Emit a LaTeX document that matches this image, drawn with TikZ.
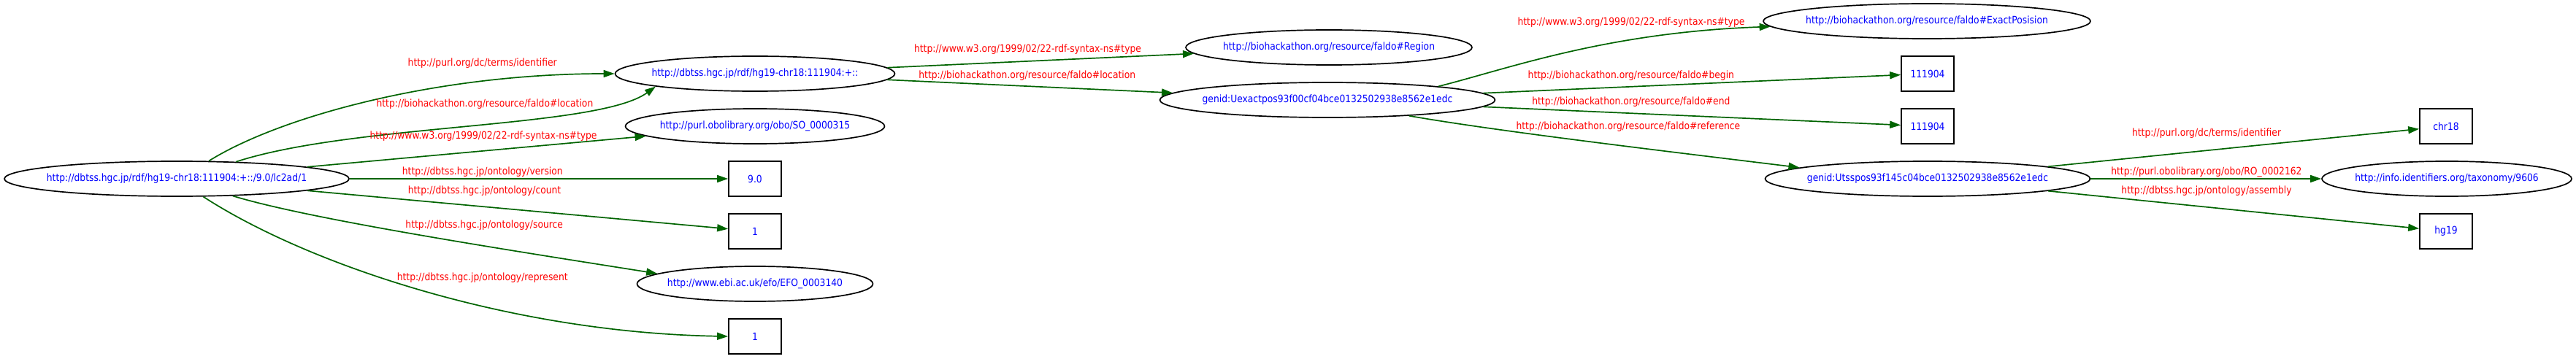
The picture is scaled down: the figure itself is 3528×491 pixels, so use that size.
\documentclass[tikz,border=0pt]{standalone}
\usepackage{fontspec}
\setmainfont{DejaVu Sans}[FakeStretch=0.88]
\usepackage{tikz}
\usetikzlibrary{positioning,arrows.meta,shapes.geometric}
\definecolor{edgegreen}{HTML}{006400}
\definecolor{propred}{HTML}{FF0000}
\definecolor{nodeblue}{HTML}{0000FF}
\newcommand{\iri}[1]{\makebox[0pt]{#1}}
\tikzset{->,>={Triangle[length=15pt,width=10pt]},
every edge/.style={draw=edgegreen,line width=1.7pt},
ur/.style={ellipse,draw,line width=1.7pt,inner sep=0pt,minimum height=48pt,text=nodeblue,font=\fontsize{14}{16}\selectfont},
lt/.style={rectangle,draw,line width=1.7pt,inner sep=0pt,minimum width=72pt,minimum height=48pt,text=nodeblue,font=\fontsize{14}{16}\selectfont},
pr/.style={inner sep=0pt,text=propred,font=\fontsize{14}{16}\selectfont},
}

\begin{document}
\begin{tikzpicture}[x=1pt,y=1pt]
\useasboundingbox (0,0) rectangle (3528,491);
\node[ur,minimum width=472pt] (root) at (242,246) {\iri{http://dbtss.hgc.jp/rdf/hg19-chr18:111904:+::/9.0/lc2ad/1}};
\node[ur,minimum width=383pt] (reg) at (1034,390) {\iri{http://dbtss.hgc.jp/rdf/hg19-chr18:111904:+::}};
\node[ur,minimum width=355pt] (so) at (1034,318) {\iri{http://purl.obolibrary.org/obo/SO\_0000315}};
\node[lt] (ver) at (1034,246) {9.0};
\node[lt] (cnt) at (1034,174) {1};
\node[ur,minimum width=323pt] (efo) at (1034,102) {\iri{http://www.ebi.ac.uk/efo/EFO\_0003140}};
\node[lt] (rep) at (1034,30) {1};
\node[ur,minimum width=392pt] (region) at (1820,426) {\iri{http://biohackathon.org/resource/faldo\#Region}};
\node[ur,minimum width=459pt] (expos) at (1818,354) {\iri{genid:Uexactpos93f00cf04bce0132502938e8562e1edc}};
\node[ur,minimum width=448pt] (exact) at (2639,462) {\iri{http://biohackathon.org/resource/faldo\#ExactPosision}};
\node[lt] (fbeg) at (2640,390) {111904};
\node[lt] (fend) at (2640,318) {111904};
\node[ur,minimum width=445pt] (tss) at (2640,246) {\iri{genid:Utsspos93f145c04bce0132502938e8562e1edc}};
\node[lt] (chr) at (3350,318) {chr18};
\node[ur,minimum width=342pt] (taxon) at (3351,246) {\iri{http://info.identifiers.org/taxonomy/9606}};
\node[lt] (asm) at (3350,174) {hg19};

\path
(root.29) edge[out=32,in=180,out distance=115pt,in distance=243pt] node[pr,pos=.742,yshift=25pt] (p1) {http://purl.org/dc/terms/identifier} (reg.west)
(root.16) edge[out=18,in=216,out distance=170pt,in distance=98pt] node[pr,pos=.533,yshift=27pt] (p2) {http://biohackathon.org/resource/faldo\#location} (reg.south west)
(root) edge node[pr,pos=.52,yshift=20pt] (p3) {http://www.w3.org/1999/02/22-rdf-syntax-ns\#type} (so)
(root) edge node[pr,pos=.351,yshift=9pt] (p4) {http://dbtss.hgc.jp/ontology/version} (ver)
(root) edge node[pr,pos=.421,yshift=22pt] (p5) {http://dbtss.hgc.jp/ontology/count} (cnt)
(root.343) edge[out=343,in=171,out distance=111pt,in distance=202pt] node[pr,pos=.635,yshift=28pt] (p6) {http://dbtss.hgc.jp/ontology/source} (efo.174)
(root.326) edge[out=327,in=179,out distance=171pt,in distance=298pt] node[pr,pos=.605,yshift=38pt] (p7) {http://dbtss.hgc.jp/ontology/represent} (rep.west)
(reg) edge node[pr,pos=.458,yshift=16pt] (p8) {http://www.w3.org/1999/02/22-rdf-syntax-ns\#type} (region)
(reg) edge node[pr,pos=.49,yshift=14pt] (p9) {http://biohackathon.org/resource/faldo\#location} (expos)
(expos.7) edge[out=14,in=182,out distance=96pt,in distance=226pt] node[pr,pos=.68,yshift=24pt] (p10) {http://www.w3.org/1999/02/22-rdf-syntax-ns\#type} (exact.182)
(expos) edge node[pr,pos=.354,yshift=15pt] (p11) {http://biohackathon.org/resource/faldo\#begin} (fbeg)
(expos) edge node[pr,pos=.354,yshift=16pt] (p12) {http://biohackathon.org/resource/faldo\#end} (fend)
(expos.349) edge[out=350,in=173,out distance=122pt,in distance=168pt] node[pr,pos=.585,yshift=27pt] (p13) {http://biohackathon.org/resource/faldo\#reference} (tss.175)
(tss) edge node[pr,pos=.427,yshift=24pt] (p14) {http://purl.org/dc/terms/identifier} (chr)
(tss) edge node[pr,pos=.502,yshift=9pt] (p15) {http://purl.obolibrary.org/obo/RO\_0002162} (taxon)
(tss) edge node[pr,pos=.427,yshift=22pt] (p16) {http://dbtss.hgc.jp/ontology/assembly} (asm)
;
\end{tikzpicture}
\end{document}
